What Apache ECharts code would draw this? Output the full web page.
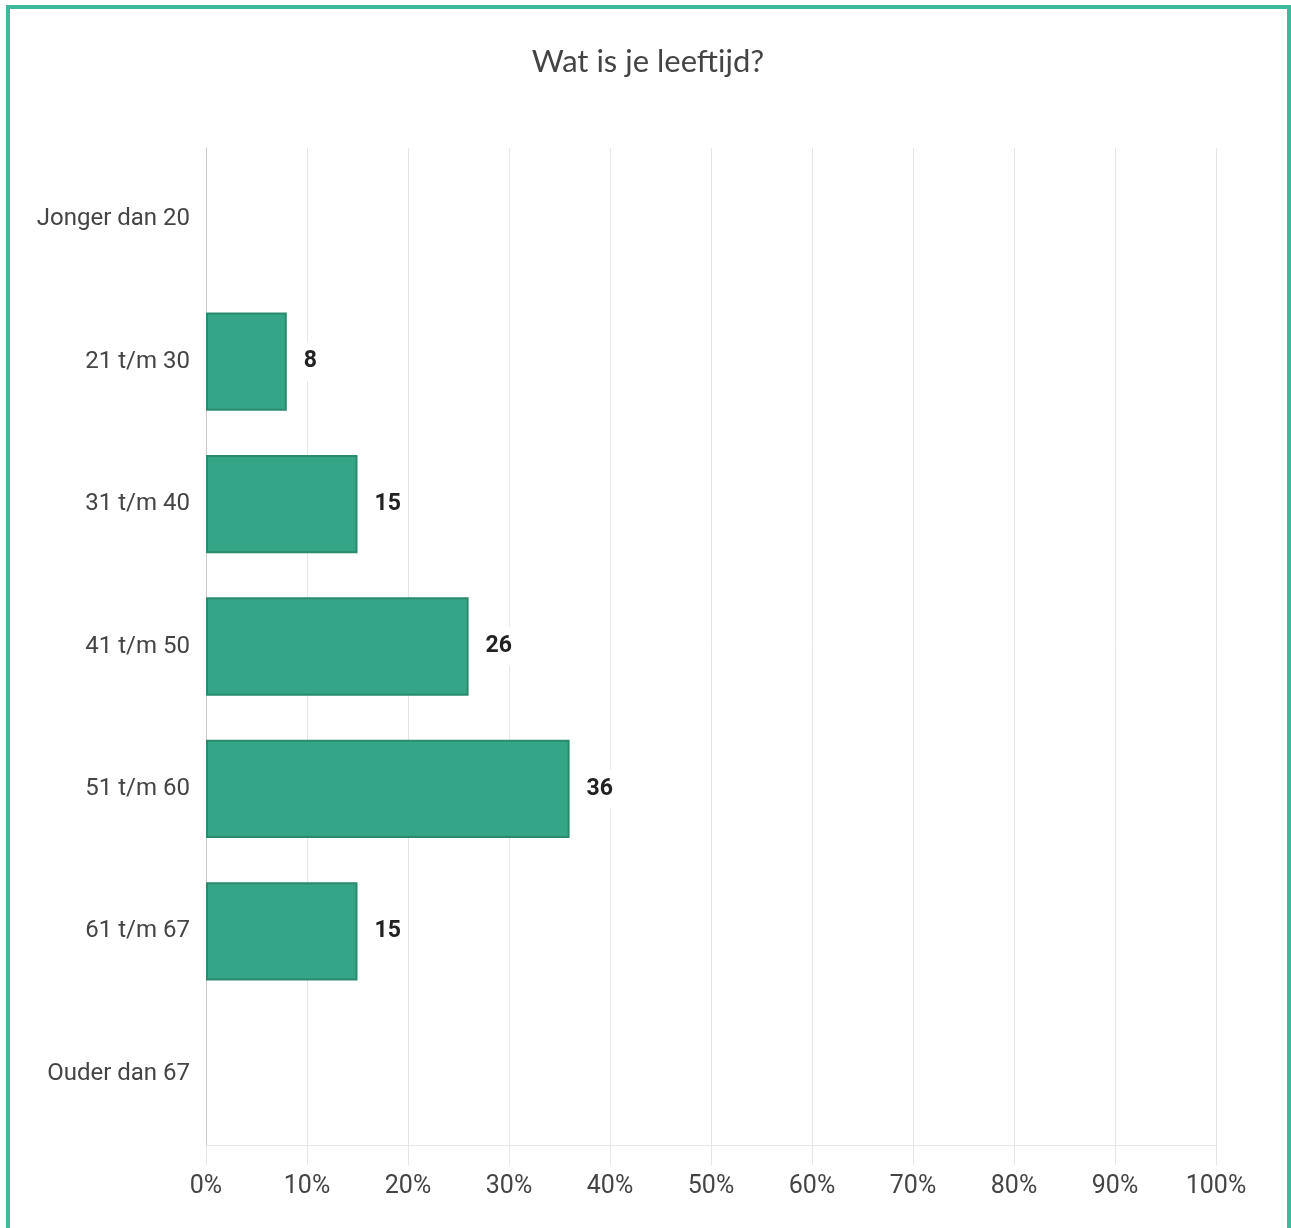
<!DOCTYPE html>
<html>
<head>
<meta charset="utf-8">
<script src="https://cdn.jsdelivr.net/npm/echarts@6/dist/echarts.min.js"></script>
<style>
html,body{margin:0;padding:0;background:#fff;overflow:hidden;}
#frame{position:absolute;left:6px;top:5px;width:1277px;height:1300px;border:4px solid #3dba9c;box-sizing:content-box;}
#chart{position:absolute;left:0;top:0;width:1291px;height:1228px;}
</style>
</head>
<body>
<div id="frame"></div>
<div id="chart"></div>
<script>
const titleText = 'Wat is je leeftijd?';
const categories = ['Jonger dan 20', '21 t/m 30', '31 t/m 40', '41 t/m 50', '51 t/m 60', '61 t/m 67', 'Ouder dan 67'];
const values = [0, 8, 15, 26, 36, 15, 0];
const xTicks = { min: 0, max: 100, interval: 10 };

const chart = echarts.init(document.getElementById('chart'), null, { renderer: 'canvas' });
chart.setOption({
  backgroundColor: 'transparent',
  animation: false,
  title: {
    text: titleText,
    left: 643,
    top: 41,
    textAlign: 'center',
    textStyle: { fontFamily: 'Lato', fontSize: 31, fontWeight: 'normal', color: '#444' }
  },
  grid: { left: 206, right: 75, top: 148, bottom: 83, containLabel: false },
  xAxis: {
    type: 'value',
    min: xTicks.min,
    max: xTicks.max,
    interval: xTicks.interval,
    axisLine: { show: true, lineStyle: { color: '#e6e6e6', width: 1 } },
    axisTick: { show: true, length: 20, lineStyle: { color: '#e6e6e6' } },
    splitLine: { show: true, lineStyle: { color: '#e6e6e6', width: 1 } },
    axisLabel: {
      formatter: '{value}%',
      fontFamily: 'Roboto',
      fontSize: 25,
      color: '#444',
      margin: 29
    }
  },
  yAxis: {
    type: 'category',
    data: categories,
    inverse: true,
    axisLine: { show: true, lineStyle: { color: '#cccccc', width: 1 } },
    axisTick: { show: false },
    axisLabel: { fontFamily: 'Roboto', fontSize: 24, color: '#444', margin: 16 }
  },
  series: [{
    type: 'bar',
    data: values.map(v => (v === 0 ? { value: v, itemStyle: { borderWidth: 0, opacity: 0 } } : v)),
    barCategoryGap: '31%',
    itemStyle: { color: '#34a586', borderColor: '#2b8a6d', borderWidth: 2 },
    label: {
      show: true,
      position: 'right',
      distance: 15,
      formatter: p => (p.value ? String(p.value) : ''),
      fontFamily: 'Roboto',
      fontSize: 23,
      fontWeight: 'bold',
      color: '#222',
      backgroundColor: '#fff',
      padding: [8, 2]
    }
  }]
});
</script>
</body>
</html>
